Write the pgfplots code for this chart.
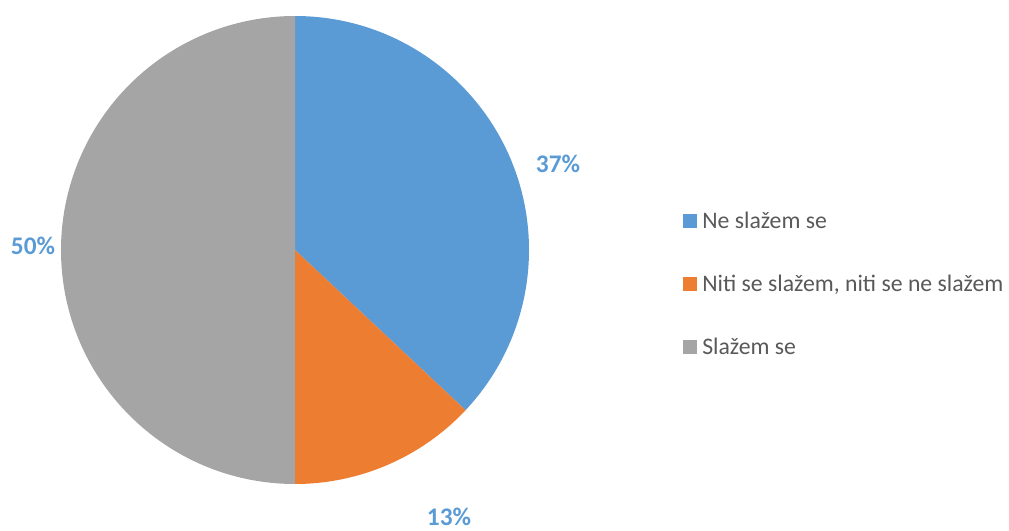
\documentclass[border=0pt]{standalone}
\usepackage{pgfplots}
\pgfplotsset{compat=1.18}
\usepackage{pgfplotstable}
\usepackage{fontspec}
\setmainfont{Carlito}
\definecolor{cblue}{HTML}{5B9BD5}
\definecolor{corange}{HTML}{ED7D31}
\definecolor{cgray}{HTML}{A5A5A5}
\definecolor{ctext}{HTML}{595959}
\pgfplotstableread{
idx value
0 37
1 13
2 50
}\piedata
\begin{document}%
\pgfplotstablegetelem{0}{value}\of\piedata\pgfmathsetmacro\va{\pgfplotsretval}%
\pgfplotstablegetelem{1}{value}\of\piedata\pgfmathsetmacro\vb{\pgfplotsretval}%
\pgfplotstablegetelem{2}{value}\of\piedata\pgfmathsetmacro\vc{\pgfplotsretval}%
\pgfmathsetmacro\aA{90-3.6*\va}%
\pgfmathsetmacro\aB{\aA-3.6*\vb}%
\pgfmathsetmacro\aC{\aB-3.6*\vc}%
\pgfmathsetmacro\xA{295+234*cos(\aA)}%
\pgfmathsetmacro\yA{278+234*sin(\aA)}%
\pgfmathsetmacro\xB{295+234*cos(\aB)}%
\pgfmathsetmacro\yB{278+234*sin(\aB)}%
\begin{tikzpicture}
\begin{axis}[hide axis, scale only axis, x=0.75pt, y=0.75pt,
  xmin=0, xmax=1009, ymin=0, ymax=528, clip=false]
\path (axis cs:0,0) rectangle (axis cs:1009,528);
\fill[cblue] (axis cs:295,278) -- (axis cs:295,512) arc[start angle=90, end angle=\aA, radius=175.5pt] -- cycle;
\fill[corange] (axis cs:295,278) -- (axis cs:\xA,\yA) arc[start angle=\aA, end angle=\aB, radius=175.5pt] -- cycle;
\fill[cgray] (axis cs:295,278) -- (axis cs:\xB,\yB) arc[start angle=\aB, end angle=\aC, radius=175.5pt] -- cycle;
% data labels
\node[text=cblue, font=\fontsize{19}{22}\selectfont\bfseries] at (axis cs:558,364) {37\%};
\node[text=cblue, font=\fontsize{19}{22}\selectfont\bfseries] at (axis cs:449,11) {13\%};
\node[text=cblue, font=\fontsize{19}{22}\selectfont\bfseries] at (axis cs:33,282) {50\%};
% legend
\fill[cblue] (axis cs:683,300) rectangle (axis cs:697,314);
\fill[corange] (axis cs:683,237) rectangle (axis cs:697,251);
\fill[cgray] (axis cs:683,174) rectangle (axis cs:697,188);
\node[anchor=base west, inner sep=0pt, text=ctext, font=\fontsize{17.8}{20}\selectfont] at (axis cs:702,300) {Ne slažem se};
\node[anchor=base west, inner sep=0pt, text=ctext, font=\fontsize{17.8}{20}\selectfont] at (axis cs:702,237) {Niti se slažem, niti se ne slažem};
\node[anchor=base west, inner sep=0pt, text=ctext, font=\fontsize{17.8}{20}\selectfont] at (axis cs:702,174) {Slažem se};
\end{axis}
\end{tikzpicture}%
\end{document}
